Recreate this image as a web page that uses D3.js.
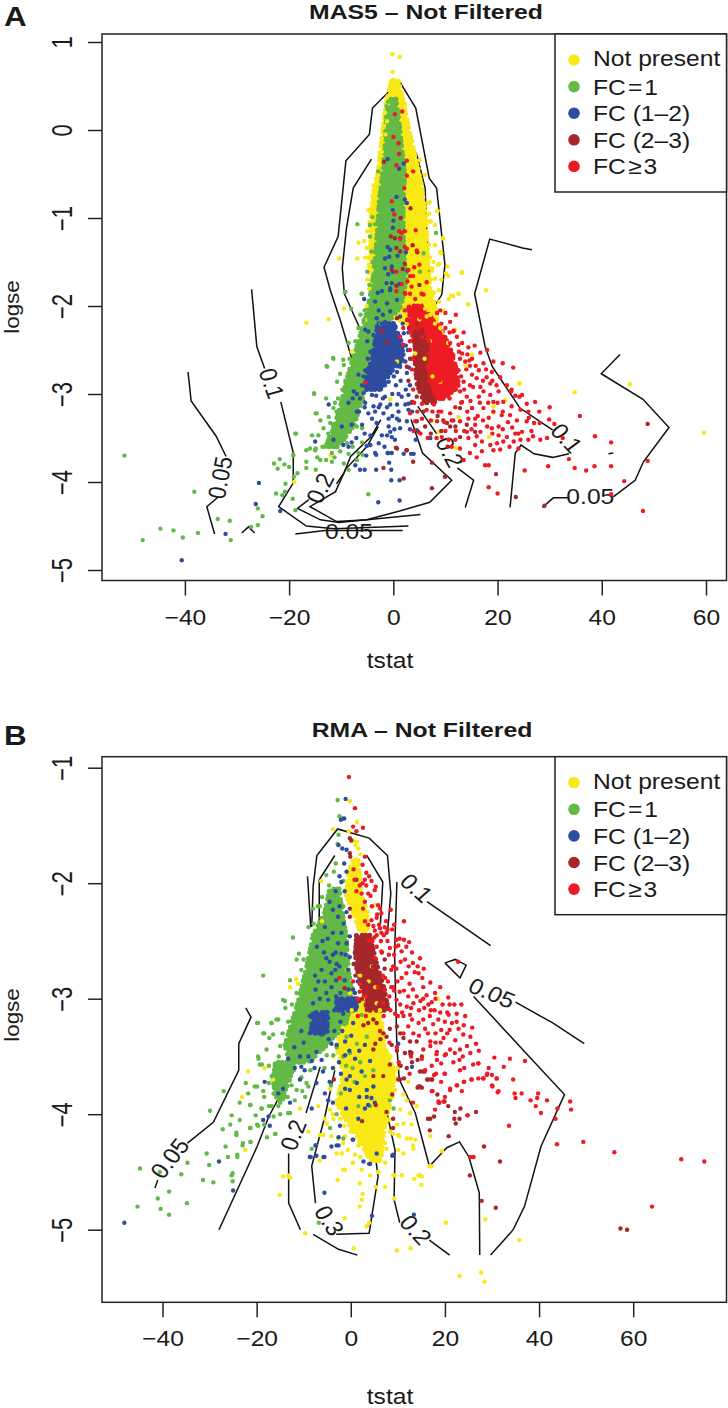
<!DOCTYPE html>
<html>
<head>
<meta charset="utf-8">
<script src="https://cdnjs.cloudflare.com/ajax/libs/d3/7.8.5/d3.min.js"></script>
<style>
body { margin: 0; background: #fff; }
svg { display: block; }
text { font-family: "Liberation Sans", Arial, sans-serif; fill: #1a1a1a; }
</style>
</head>
<body>
<div id="chart"></div>
<script>
// legend and tick labels
const legendLabels = ["Not present", "FC\u200A=\u200A1", "FC (1–2)", "FC (2–3)", "FC\u200A≥\u200A3"];
const classColors = ["#f8e816", "#63b946", "#2f4da0", "#a6262a", "#ed1c24"];
const masXTicks = [-40, -20, 0, 20, 40, 60];
const masYTicks = [1, 0, -1, -2, -3, -4, -5];
const rmaXTicks = [-40, -20, 0, 20, 40, 60];
const rmaYTicks = [-1, -2, -3, -4, -5];

// overplotted cores, solid in the picture: [logse, left tstat, right tstat]
const masYellowCore = [[.55,-.4,1],[.3,-1.4,2],[0,-2,3],[-.3,-2.6,4.2],[-.6,-3.2,5.3],[-.9,-4.2,6],[-1.2,-4.3,6.4],[-1.5,-4.3,6.6],[-1.8,-4.2,7],[-2.05,-3,8.2],[-2.25,4.5,8.4]];
const masGreenCore = [[.35,-.9,.5],[.1,-1.4,1.1],[-.2,-1.6,1.6],[-.5,-2.1,2.2],[-.8,-2.7,1.9],[-1.1,-3,1.9],[-1.4,-3.4,2],[-1.7,-3.9,2.5],[-2,-4.8,1.5],[-2.2,-5.7,-1.2],[-2.5,-7.2,-3.2],[-2.8,-8.8,-4.8],[-3.1,-10,-6.2],[-3.35,-11.2,-7.5],[-3.6,-13,-10.5]];
const masBlueCore = [[-2.2,-3,0],[-2.4,-3.5,1.5],[-2.6,-4,2],[-2.75,-5,-.5],[-2.95,-5.5,-2.5]];
const masRedCore = [[-2,3,5.5],[-2.3,3.5,9.5],[-2.5,4.5,11],[-2.7,5,12],[-2.9,6,12.5],[-3.05,7,10]];
const masBrownCore = [[-2.3,4,5.5],[-2.5,4.2,6.5],[-2.7,4.2,6],[-2.9,4.6,6.5],[-3.1,6,8]];
const rmaYellowTopCore = [[-1.8,.5,1.5],[-1.9,-.4,1.8],[-2.1,-1,2.2],[-2.25,.5,3.5],[-2.42,2,3.3]];
const rmaYellowCore = [[-3,1,5.5],[-3.2,-1,6.5],[-3.4,-3,7],[-3.65,-1.5,9.5],[-3.9,-3,8.3],[-4.05,-1,7.5],[-4.2,1.5,6.8],[-4.4,4.2,6.4]];
const rmaGreenCore = [[-2.05,-4.5,-2.5],[-2.25,-5.5,-1.8],[-2.45,-8,-1],[-2.75,-9.5,-.5],[-3,-11,.5],[-3.2,-12.5,-1],[-3.4,-14,-5],[-3.55,-13,-9]];
const rmaGreenLowCore = [[-3.55,-16,-12],[-3.7,-16.5,-13],[-3.85,-16,-14.5]];
const rmaBlueLeftCore = [[-3.12,-8,-5],[-3.3,-8.5,-5]];
const rmaBlueMidCore = [[-3,-3,1],[-3.1,-3,1]];
const rmaBrownCore = [[-2.45,1.2,4],[-2.7,1,5.5],[-2.9,2.5,7],[-3.1,3.5,8]];

// points, flat tstat,logse pairs
const masYellow = [-.2,.86,1.2,.83,-.1,.66,0,.57,-.3,.56,.4,.56,.5,.5,-.5,.45,1,.4,-1,.3,1.5,.28,2.2,.3,1.9,.1,-1.8,.05,2.4,-.05,-2.2,-.1,3.2,-.13,-2.2,-.25,-3.8,-.63,-3.8,-.69,-4.8,-.91,-4,-.85,-6.7,-1.28,-5.6,-1.26,-4.5,-1.33,-6.9,-1.46,-5.4,-1.45,-10.4,-1.46,6.1,-.51,6.7,-.83,8.4,-.92,8,-1.08,9.5,-1.23,8,-1.31,9,-1.39,10.4,-1.55,10.1,-1.63,13.1,-1.62,12.5,-1.86,7.7,-1.5,8.6,-1.53,7.4,-1.57,8,-1.69,6.5,-1.46,6.9,-.95,6.4,-.97,7.2,-1.04,5.1,-.34,4.8,-.44,-4.7,-1.53,-5.1,-1.34,-4.6,-.91,8.5,-.92,7,-.82,7,-1.04,9.6,-1.23,-4.6,-1.55,-4.2,-1.6,9.2,-1.4,8.8,-1.52,7.4,-1.6,9.2,-1.7,-16.7,-2.19,-12.4,-2.15,-9.5,-2.03,17.8,-1.82,13.2,-1.62,12.5,-1.86,14.4,-1.98,10.5,-1.66,11.1,-1.88,8.7,-1.82,10.6,-1.92,11.5,-1.89,14.4,-1.98,24.2,-2.88,11.9,-2.27,9.6,-2.05,7.7,-2.05,7.1,-2.1,6.4,-2.12,6.1,-2.03,8.4,-2.14,13.8,-2.67,19.2,-3.14,21.5,-3.07,9,-2.86,-.6,-3.06,7.4,-3.3,8.7,-3.43,18.3,-3.49,12,-3.61,19.2,-3.21,12.5,-3.26,4.2,-2.54,.7,-2.63,15.1,-2.55,-8,-2.52,-5.1,-2,-5.4,-2.16,59.6,-3.44,45.4,-2.89,34.8,-2.98,24.2,-2.88,6.2,-1.98,9.3,-2.3,10.5,-2.42,-12,-3.7,-19,-4,-1.2,.1,-1.6,.2,1.7,.12,2.3,.12,-1.5,-.05,2.9,-.2,3.4,-.3,-2.6,-.4,4.2,-.55,-3.3,-.55,5,-.7,5.4,-.75,-4,-.75,-4.6,-1.05,-5,-1.15,-4.8,-1.45,-5,-1.7,5.8,-1,6.2,-1.2,6.8,-1.3,7,-1.45,7.2,-1.7,7.8,-1.85,-4.6,-1.8,8.8,-1.95,8,-2.2,9,-2.25,4.2,-1.9,6.5,-1.75,5,-2.15,7,-2.4,6,-2.6,7.5,-2.8];
const masGreen = [-51.6,-3.7,-48.1,-4.66,-44.7,-4.53,-42.2,-4.55,-40.4,-4.63,-38.2,-4.11,-37.5,-4.58,-33.7,-4.42,-31.4,-4.44,-31.2,-4.66,-25.1,-4.39,-26,-4.49,-27.3,-4.51,-26,-4.3,-22.5,-4.13,-21.3,-4.15,-20.8,-4.11,-19.3,-4.19,-18.8,-4.32,-22.9,-3.79,-21.8,-3.74,-22.2,-3.85,-20,-3.83,-19.2,-3.7,-20.9,-3.8,-19.1,-3.94,-20.7,-4.02,-18.4,-3.9,-16.7,-3.84,-14.9,-3.86,-16.7,-3.77,-14,-3.75,-11.8,-3.77,-9.5,-3.79,-8.6,-3.86,-16.7,-3.64,-14.9,-3.62,-18.7,-3.45,-14.9,-3.22,-12.7,-2.69,-11.6,-2.59,-9.5,-2.67,-15.2,-2.99,-4.8,-4.14,-6.9,-1.07,-4.5,-1.08,-3.5,-1.07,-4.5,-1.21,-4.2,-1.38,-4,-1.5,-5,-1.61,8.2,-1.17,-9.3,-1.84,-6.1,-1.86,-4.6,-1.76,-2.9,-.47,-4,-.99,-1,.32,-1.3,.27,5.8,-1.4,5.1,-1.61,-9.2,-1.84,-6,-1.86,-8.1,-2.03,-5.7,-2.16,-6.7,-2.25,-8.6,-2.42,-9.6,-2.61,-11.5,-2.6,-12.8,-2.68,-10.2,-2.77,-10.8,-2.86,-15.2,-3,-12.9,-3.05,-11.2,-3.1,-11.5,-3.16,-14.7,-3.22,-14,-3.3,-12.4,-3.26,-12.1,-3.33,-13.4,-3.39,-18.8,-3.45,-14.4,-3.47,-15.6,-3.47,-16,-3.62,-15,-3.64,-13.1,-3.6,-11.8,-3.67,-19.2,-3.69,-7,-3.37,-6,-3.39,-8.9,-3.56,-6.7,-3.67,-5.9,-3.69,-10.8,-3.6,-9.2,-3.45,-10.2,-3.5,-12.5,-3.45,-8.3,-2.9,-7.6,-3.2,-9,-3.22,-6.3,-3.05,-5.5,-2.55,-3.2,-2.02,-2.4,-2.2,-4.7,-2.35,-4.7,-1.95,-5.5,-2.05,-6.3,-2.1,-6.6,-2.4,-7.3,-2.4,-7.7,-2.62,-8.4,-2.6,-9.2,-2.85,-9.8,-2.95,-10.6,-3.05,-10.9,-3.2,-11.6,-3.35,-12.4,-3.5,-11,-3.42,-13.6,-3.6,-14.6,-3.72,-12.9,-3.75,-10.2,-3.65,-11.3,-3.72,-8.6,-3.68,-7.8,-3.6,-6,-3.55,-7,-3.75];
const masBlue = [-25.8,-4.01,-26.4,-4.25,-21.7,-4.33,-32.2,-4.59,-40.6,-4.89,-2.9,-4.23,1.2,-4.21,-.4,-3.98,1.2,-3.98,-.4,-3.86,-3.3,-3.86,-5.5,-3.86,-6.4,-3.86,-7.3,-3.81,-1.1,-3.67,-3.3,-3.69,-5.1,-3.59,3.4,-3.68,.3,-3.52,-1.1,-1.33,-1.1,-.33,1.1,-.44,2,-.38,.6,-.76,2.2,-.79,2.6,-.83,-.1,-.91,0,-1.03,-.1,-1.11,-.6,-1.36,-1.6,-1.46,-.8,-1.44,.8,-1.43,2.4,-1.39,-1.6,-1.57,-.3,-1.55,-1,-1.64,-.1,-1.61,2.7,-1.6,-1.3,-1.74,-.3,-1.74,-.6,-1.82,-2.2,-1.83,-5.6,-1.92,-3.5,-1.95,-1.2,-1.97,.7,-1.93,-2.8,-2.05,-.6,-2.06,1.3,-2.12,-3.2,-2.14,-1.6,-2.18,.4,-2.23,-4.8,-2.29,-2.5,-2.29,-3.8,-2.33,2,-2.31,.7,-2.33,-5.4,-2.27,-3.5,-2.44,-1.6,-2.46,-2.5,-2.54,-4.4,-2.52,-.6,-2.56,1.3,-2.69,2.3,-2.63,-3.8,-2.63,-1.9,-2.67,-5.4,-2.73,-3.2,-2.75,-.6,-2.73,.7,-2.75,-6.7,-2.78,-4.4,-2.82,-2.2,-2.86,-6,-2.9,-4.8,-2.93,-2.8,-2.95,-.9,-2.86,2.6,-2.76,-7.6,-2.97,-5.7,-2.99,-4.1,-3.01,-1.6,-3.03,1.6,-3.03,2.9,-3.01,2.3,-3.12,2.9,-3.11,-3.8,-3.14,-2.5,-3.12,-.6,-3.12,.7,-3.12,-8.6,-3.1,-3.5,-3.2,1,-3.2,2.9,-3.18,-12.4,-3.12,-4.1,-3.28,-1.9,-3.22,-.9,-3.28,.7,-3.28,2.6,-3.31,-6,-3.35,-3.2,-3.33,-9.9,-3.37,-8,-3.35,-.9,-3.37,-.6,-3.43,-1.2,-3.47,1.3,-3.39,4.5,-3.41,7.1,-3.5,-4.4,-3.47,-2.2,-3.47,-.3,-3.49,-11.5,-3.52,-15,-3.54,-9.6,-3.58,-4.4,-3.58,-2.8,-3.56,-8.6,-3.6,-3.5,-3.67,-1,-3.67,-.3,-3.67,2,-3.68,3.9,-3.68,-7,-3.2,-5.5,-3.15,-7.8,-3.05,-3,-1.85,-.6,-1.8,1.2,-1.75,-2,-2.1,0,-2.2,-2.2,-2.2,-5,-2.4,-2,-2.4,.2,-2.45,-4.9,-2.6,-2.9,-2.85,-1.2,-2.7,-3.8,-2.85,-5,-2.75,-1.6,-2.9,.5,-2.9,-.2,-3,-3.3,-3.02,-5.4,-3.1,-7,-3,-6.6,-3.2,-1.2,-3.15,-2,-3.05,.2,-3.4,-1.7,-3.6,-5.5,-3.45,-7.1,-3.5,-8,-3.55,1.1,-3.3,3.5,-3.1,3.2,-3.4,-.8,-3.78,-5.2,-3.7,4.3,-3.52,1.5,-2.45,2.8,-2.5,3,-2.7,2.4,-2.95,1,-3,1.8,-2.2,2.9,-2.3,3.2,-2.9,3.6,-3.2,-.2,-3.25,-2.8,-3.15,-4.8,-3.22,-6.4,-3.05,-5.7,-2.8,-4.2,-2.72,-2.6,-2.95,.1,-2.8,.3,-2.65,1.4,-2.85,2.4,-2.45];
const masBrown = [-1.9,-3.84,2,-3.96,7.4,-4.07,9.9,-3.94,19.7,-3.91,23.5,-4.17,29,-4.27,48.8,-3.34,.5,-3.61,2.5,-3.64,3.8,-3.77,7.4,-3.78,-1.8,-.36,3.3,-.89,1.4,-1,-.5,-1.21,.3,-1.23,1.3,-1.23,3.7,-1.31,.6,-1.34,1.3,-1.38,4.6,-1.39,2.2,-1.52,1.8,-1.58,-.3,-1.59,5,-1.76,.6,-1.77,.7,-2.14,4.5,-2.2,5.5,-2.27,4.2,-2.48,5.5,-2.54,6.8,-2.42,4.5,-2.67,3.6,-2.6,5.8,-2.76,4.8,-2.88,5.5,-2.95,7.1,-3.01,6.4,-3.05,8,-3.09,4.5,-3.03,2.6,-2.69,3.6,-3.09,9.6,-3.3,11.5,-3.3,12.8,-3.16,15.1,-3.16,10.9,-3.37,10.3,-3.33,14.1,-3.35,15.7,-3.43,6.1,-3.37,4.5,-3.31,.7,-3.62,2.6,-3.64,4.8,-3.43,12.8,-3.49,11.9,-3.37,-2.2,-2.29,-1.2,-2.41,3,-2.25,2.9,-2.85,3.2,-2.6,8.5,-3.25,9.2,-3.42,5.8,-3.2,7.2,-3.45,10.4,-3.6];
const masRed = [.3,.18,1.7,.21,0,-.08,1,-.15,1.1,-.27,2.6,-.35,.6,-.4,3.8,-.47,2.6,-.52,2.1,-.66,-.3,-.81,.2,-.96,4.3,-1.14,1.1,-1.15,2.2,-1.15,1.6,-1.17,1.3,-1.24,2.2,-1.33,2.6,-1.35,4.5,-1.37,5,-1.53,4,-1.56,2.9,-1.59,.6,-1.61,3.2,-1.66,3.8,-1.66,2.7,-1.72,6.4,-1.73,1.6,-1.75,3.5,-1.78,.6,-1.83,2.2,-1.85,5.4,-1.86,3.2,-1.86,2.3,-1.86,4.2,-1.92,5.8,-1.87,2.9,-2.03,4.8,-2.05,8.4,-2.08,10,-2.08,2.6,-2.16,6.8,-2.18,10.9,-2.18,10,-2.25,1.3,-2.35,11.5,-2.29,12.2,-2.35,3.2,-2.29,1.9,-2.44,5.5,-2.35,9,-2.31,10.9,-2.42,12.5,-2.44,14.4,-2.47,13.2,-2.54,16.7,-2.53,15.1,-2.6,13.8,-2.63,11.5,-2.56,10,-2.54,9.3,-2.67,11.9,-2.67,12.5,-2.73,16.4,-2.73,15.1,-2.78,18.9,-2.75,20.5,-2.81,19.2,-2.63,17.9,-2.81,16,-2.82,8.4,-2.76,10.3,-2.8,11.5,-2.88,13.5,-2.86,14.7,-2.9,16.7,-2.92,18.6,-2.88,21.8,-2.9,22.7,-2.95,24.7,-3.01,20.2,-2.97,18.6,-3.01,16.4,-3.03,14.1,-3.03,12.8,-2.97,10.3,-2.97,21.1,-3.09,19.2,-3.09,22.7,-3.14,22.4,-3.24,24.4,-3.18,25.9,-3.2,20.8,-3.24,19.2,-3.2,17.3,-3.16,15.1,-3.16,13.2,-3.09,5.5,-3.11,6.4,-3.18,8.7,-3.2,10.9,-3.22,5.5,-3.28,3.2,-3.22,4.2,-3.31,8.4,-3.31,12.8,-3.31,14.4,-3.28,15.7,-3.28,18,-3.37,18.9,-3.39,16.7,-3.43,15.7,-3.35,14.1,-3.43,23.4,-3.45,21.8,-3.49,24.7,-3.43,25.6,-3.31,25.9,-3.52,24.4,-3.52,23.1,-3.54,21.1,-3.54,19.9,-3.56,18.6,-3.58,17,-3.54,15.7,-3.58,14.4,-3.5,19.2,-3.64,14.7,-3.67,10.6,-3.52,9.3,-3.49,11.9,-3.52,25.2,-3.87,18.3,-4.06,20,-4.13,17.6,-3.81,18.3,-3.81,29.7,-3.82,33.7,-3.74,34.8,-3.84,37,-3.87,38.6,-3.82,41.8,-3.82,41.8,-3.55,38.7,-3.48,35.8,-3.25,48.8,-3.76,44.3,-3.99,41.8,-4.14,47.9,-4.33,29.9,-3.29,27,-3.33,28.1,-3.33,26,-3.27,27.2,-3.09,25.6,-3.11,22.6,-2.97,24.2,-3.03,30.9,-3.34,32.5,-3.5,-5.4,-2.87,26.8,-3.48,28.2,-3.52,29.5,-3.5,24,-3.62,9.1,-2.42,7.2,-2.7,8.9,-2.85,3.8,-2.6,7.8,-3.12,9.2,-2.2,8,-2.3,6.8,-2.4,9.8,-2.45,8.6,-2.52,7.4,-2.58,11,-2.5,10.2,-2.62,6.5,-2.68,8.2,-2.65,9.4,-2.78,12.8,-2.6,14,-2.72,11,-2.75,13,-2.8,12,-2.95,15.3,-2.92,17.3,-2.97,19.8,-2.9,10.8,-3.05,9.2,-3.05,7.5,-3.2,11.9,-3.15,14.2,-3.2,16.2,-3.25,18.3,-3.27,20.2,-3.37,22,-3.32,23.7,-3.3,26.5,-3.42,16.6,-3.1,13.6,-3.42,12,-3.42,10,-3.42,8.3,-3.5,11.2,-3.6,12.8,-3.62,17,-3.65,20.5,-3.63,22.3,-3.6,16,-3.72,13.5,-3.75,24,-3.45,28,-3.2,30,-3.15,3.5,-2.05,5.2,-2.13,4,-2.25,1.9,-2.25,2.2,-2.05,12,-2.1,9,-2.05,13.5,-2.3,15.6,-2.45,18,-2.5,14.2,-2.55,17.3,-2.65,19,-2.85,21,-2.65,23,-2.7,3.2,-2.5,3.5,-2.72,3.8,-2.95,2.8,-2.15,3.2,-2.4,4,-3.1,4.6,-3.2,3.9,-3.42,5.2,-3.45,6.6,-3.5,7.2,-3.3,11.6,-2.28,10.8,-2.3,13.2,-2.42,12.6,-2.52,14.6,-2.62,15.8,-2.68,13.6,-2.95,14.8,-3.08,17.8,-2.72,17.2,-2.85,18.2,-3.1,20,-3.1,21,-3.2,23.4,-3.02,15,-3.4,17.2,-3.3,19,-3.45,21,-3.4,13,-3.1,11.2,-3.3,9.2,-3.2,9.8,-3.32,16,-3.48,20.2,-3.47,22.8,-3.38,12.3,-2.85,10.8,-2.9,14.7,-2.68];
const rmaYellow = [-.2,-1.29,1.3,-1.47,-3.8,-1.53,-.4,-1.55,2,-1.75,-6.3,-1.98,5.1,-2.19,-6.1,-2.33,-11.6,-2.83,-12.9,-2.9,-11.2,-2.87,.5,-1.63,1,-1.67,1.3,-1.64,1.6,-1.7,3.7,-2.39,3,-2.41,3.3,-2.38,18.6,-3,-.8,-2.75,-21.8,-3.63,-23.1,-3.85,-22.4,-4.31,-18.3,-3.6,-16.5,-3.7,-10.8,-3.95,-9,-4.15,-6.9,-3.93,-4.4,-3.96,-5.5,-4.04,-5.1,-4.08,-6.6,-4.18,-5.8,-4.18,-3.7,-4.04,-2.3,-4.04,-4.1,-4.19,-2.7,-4.21,-1.2,-4.19,-3,-4.34,-1.9,-4.34,-6.6,-4.4,.9,-4.35,2,-4.37,-1.2,-4.48,.5,-4.42,2.3,-4.48,4.1,-4.53,5.9,-4.5,9,-4.53,10.8,-4.53,7.3,-4.42,7.6,-4.3,10.1,-4.31,11.2,-4.34,13.3,-4.3,13.7,-4.22,11.9,-4.21,12.9,-4.09,11.2,-4.08,12.6,-3.99,14,-3.93,11.9,-3.88,11.2,-3.83,9.4,-3.79,12.2,-3.72,10.5,-3.96,9,-4.17,10.1,-4.18,17.2,-4.45,19.3,-4.32,14.4,-4.53,15.1,-4.54,16.9,-4.19,-14.4,-4.54,-13.3,-4.53,-12.9,-4.55,-1.6,-4.25,2.3,-4.18,3.7,-4.19,1.6,-4.27,-15.1,-4.7,-9.7,-5.03,-1.3,-4.9,.6,-5.16,1.9,-4.8,3.4,-4.97,3.9,-4.94,2.5,-4.69,2.4,-4.74,5.3,-4.63,7.3,-4.63,9.2,-4.73,9.8,-5.18,12.7,-5.16,20.2,-4.94,28.6,-4.91,35.8,-5.09,23.1,-5.4,27.7,-5.37,28.4,-5.45,16.7,-4.45,19.4,-4.32,15,-4.61,14.7,-4.53,13.5,-4.56,10.8,-4.53,9.3,-4.53,5.8,-4.5,.4,-4.42,1.9,-4.6,-1.6,-4.48,-2.8,-4.57,4.8,-4.34,6.3,-4.28,3.9,-4.28,1.9,-4.25,-.6,-4.31,12.7,-4.21,13.2,-4.27,10.3,-4.19,9.8,-4.09,4.5,-2.72,5.2,-2.9,3.8,-2.85,2.6,-3,5.5,-3.04,-3.8,-3.5,-2.5,-3.3,-1.7,-3.25,-3.6,-3.6,-4.4,-3.78,-3.8,-4,-1.8,-3.75,-2.8,-3.45,7.8,-3.6,8.4,-3.5,9.9,-3.6,8.9,-3.85,8.2,-4.05,8.3,-4.15,7.3,-4.25,-1.4,-4.1,0,-4.15,.2,-3.1,-.2,-2.95,2,-2.8,6.2,-3.1,7,-3.3,5.6,-4.4,4.3,-4.4];
const rmaGreen = [-44.8,-4.47,-45.3,-4.8,-40.4,-4.82,-38.6,-4.87,-41,-4.73,-38.6,-4.67,-34.8,-4.77,-31.4,-4.57,-29.2,-4.59,-36,-4.52,-40.6,-4.5,-34.7,-4.42,-30.1,-4.44,-30.6,-4.34,-26.1,-4.37,-24.1,-4.35,-25.1,-4.51,-25.1,-4.58,-26.6,-4.28,-23,-4.27,-21.3,-4.24,-24.3,-4.18,-27.2,-4.13,-25.6,-4.09,-29.9,-3.97,-25.3,-4.01,-27,-3.8,-23.6,-3.9,-21.3,-3.92,-21.8,-3.82,-6.8,-4.94,-19.6,-3.52,-18.9,-3.57,-18.4,-3.85,-21.3,-4.12,-19.9,-4.09,-18.4,-4.09,-16.4,-4.02,-16,-4.17,-12.9,-3.99,-15.4,-3.93,-13.4,-3.85,-17.4,-3.73,-16.4,-3.82,-19.9,-3.76,-22.3,-3.73,-14.9,-3.69,-11.5,-3.79,-14.4,-3.87,-17.4,-3.93,-18.9,-3.95,-10.5,-3.68,-9,-3.76,-15.4,-3.56,-18.6,-2.8,-12.3,-2.47,-12.9,-2.84,-11.5,-2.66,-11,-2.61,-19.9,-3.21,-18.4,-3.3,-14.4,-3.01,-13.9,-3.08,-15.4,-3.18,-16.9,-3.21,-10.5,-2.75,-10,-2.66,-8,-2.22,-9,-2.38,-2.8,-1.28,-2.4,-1.42,-1.8,-1.44,-2.6,-1.58,-2.8,-1.66,-16.5,-3.31,-18.6,-3.3,-17.3,-3.34,-19.7,-3.21,-16.8,-3.21,-15.8,-3.18,-14,-3.02,-15,-3.41,-17.9,-3.44,-19.7,-3.5,-19.3,-3.57,-16.1,-3.56,-14.7,-3.63,-16.8,-3.67,-20.4,-3.76,-18.6,-3.8,-15.4,-3.73,-16.1,-3.78,-14,-3.85,-12.6,-3.75,-9.4,-3.73,-9.7,-3.85,-11.9,-3.88,-15,-3.9,-21.4,-3.92,-19,-3.95,-15,-4,-13.3,-3.99,-20.2,-4.01,-21.4,-4.12,-19.7,-4.1,-23.6,-4.05,-24.3,-4.16,-22.9,-4.25,-21.3,-4.24,-17.8,-4.2,-16.1,-4.17,-24.1,-4.37,-25.3,-4.53,-8.3,-4.3,-1.6,-4.21,-4.4,-4.12,-3,-4,9.1,-3.95,8.3,-3.88,4.1,-3.93,3,-3.67,4.8,-3.62,1.6,-3.93,-1.6,-3.5,-.2,-3.47,-3.7,-3.49,-5.1,-3.39,-5.1,-3.49,-2.7,-3.3,-.9,-3.33,3.4,-3.33,1.3,-3.39,-.9,-3.21,2.3,-3.14,-3.2,-1.83,-3.6,-1.9,-5.2,-1.93,-4.6,-2.02,-6.1,-2.12,-6.6,-2.2,-1.6,-1.98,-1.6,-2.2,-1.2,-2.55,-1,-2.9,-7.9,-2.35,-7,-2.2,-8.6,-2.6,-10.2,-2.85,-11.5,-2.95,-12.5,-3.05,-13.3,-3.2,-14.5,-3.3,-15.3,-3.5,-13.4,-3.65,-17.4,-3.58,-15.2,-3.88,-16.8,-3.93,-12.1,-3.62,-11,-3.55,-10.3,-3.8,-8.6,-3.62,-2,-3.2,-4,-3.25,-3,-3.42,-1,-3.58,.4,-3.6,2,-3.55,-2.1,-3.82,.8,-3.72,-5.6,-3.6,-4.2,-3.75];
const rmaBlue = [-1.1,-1.27,-2.1,-1.45,-1.4,-1.44,-2.6,-1.67,-1.8,-1.7,-.9,-1.71,-1.4,-1.83,-.9,-1.9,-2.4,-1.94,-2,-1.99,-3.2,-2.07,-1.3,-2.07,-4.5,-2.16,-2.4,-2.2,-3.8,-2.23,-2.7,-2.29,-5.5,-2.38,-3.8,-2.43,-2,-2.43,-.2,-2.46,-2.7,-2.52,-2,-2.61,-3.8,-2.62,-.2,-2.64,-4.5,-2.68,-2.4,-2.72,-.6,-2.75,-6.2,-2.75,-4.1,-2.78,-5.5,-2.85,-6.9,-2.85,-3.1,-2.84,-1.3,-2.84,-4.1,-2.9,.5,-2.92,-6.6,-3,-4.8,-3.01,-3.1,-2.98,-1.3,-3.01,1.2,-3.04,-8,-3.04,-3,-3.04,-.9,-3.03,1.3,-3.07,-8.7,-3.15,-6.6,-3.17,-4.8,-3.17,-1.6,-3.13,.5,-3.21,-8,-3.24,-5.5,-3.21,-8.7,-3.3,-10.5,-3.28,-6.2,-3.31,-4.1,-3.39,-3,-3.4,-1.2,-3.37,-7.3,-3.46,-13.3,-3.52,-10.8,-3.5,-9,-3.5,-11.9,-3.6,-10.5,-3.59,-8.3,-3.54,-6.2,-3.53,-5.9,-3.63,-10.8,-3.7,-18.3,-3.72,-7.3,-3.73,-1.2,-3.49,.9,-3.52,4.1,-3.54,2.3,-3.63,-.2,-3.67,-.9,-3.7,1.3,-3.73,-1.2,-3.78,3.4,-3.79,3.4,-3.85,4.8,-3.76,4.4,-3.86,5.1,-3.9,3,-3.95,1.6,-4.04,-5.5,-3.82,-4.8,-3.88,-8.3,-3.95,-12.9,-3.9,-18.6,-4.05,-17.5,-4.02,-17.2,-4.1,-14.4,-3.78,-15.4,-3.82,-2.3,-4.1,-3,-4.27,-4.1,-4.28,.5,-4.22,-7.4,-4.27,-8.7,-4.37,-7.3,-4.36,-5.6,-4.37,5.5,-4.34,9,-4.35,2.7,-4.41,4.1,-4.43,10.1,-3.39,13,-3.59,3.7,-3.92,-.2,-3.79,-48.1,-4.94,-28,-4.41,-25,-4.66,-5.6,-4.68,4.5,-4.88,13.4,-4.87,-7.5,-4.27,-8.5,-4.37,-5.8,-4.37,3.9,-4.43,8.8,-4.36,.4,-4.22,-2.6,-4.2,-2.6,-4.27,-1.5,-2.35,-.9,-2.25,-4.9,-2.48,-5.7,-2.6,-3,-2.7,-.9,-2.52,.9,-2.6,1.5,-2.85,-7.2,-2.55,-6,-2.5,-5.2,-2.65,-3.2,-2.6,-1.1,-2.62,-7.6,-2.8,-3.3,-2.75,-.5,-2.92,-2.2,-2.95,-5.2,-2.95,-7.5,-2.92,-3.5,-3.1,-2.2,-3.2,-3.5,-3.28,-1.8,-3.28,.1,-3.32,-.3,-3.45,-2.5,-3.55,-4.7,-3.35,-3.8,-3.6,-2.1,-3.65,1.8,-3.45,3,-3.4,-10,-3.38,-12,-3.42,-9.8,-3.62,-7.7,-3.6,-4.5,-3.72,1.8,-3.85,-1,-3.95,-3.8,-3.9,.8,-2.7,.9,-2.95];
const rmaBrown = [57.3,-4.99,58.7,-5,30.8,-4.81,27.8,-4.75,25.3,-4.53,31.7,-4.41,28.3,-4.28,20.8,-4.19,16.8,-4.14,22.3,-4.08,23.1,-4.04,22,-4.04,24.8,-4.01,26.6,-3.98,23.3,-3.95,22.1,-3.98,16.4,-4.04,17.7,-4.02,18.8,-3.9,19.9,-3.89,18.4,-3.83,20.7,-3.93,12.7,-3.48,14.2,-3.53,14.7,-3.63,15.7,-3.63,16.2,-3.7,17.2,-3.7,14.7,-3.76,14.2,-3.77,11.3,-3.69,10.1,-3.7,8.8,-3.83,-3.6,-3.7,5.3,-3.92,2.4,-4.06,4.8,-3.67,6.9,-3.67,10.5,-3.7,11.9,-3.6,8.3,-3.57,15.3,-3.63,14.4,-3.76,15.1,-3.77,16.5,-3.7,17.3,-3.7,12.9,-3.47,12.6,-3.46,15.1,-3.5,16.9,-4.04,7.6,-3.98,9,-4.04,9,-4.12,4.8,-3.18,6.9,-3.3,7.6,-3.33,8.3,-3.26,9.8,-3.24,10.5,-3.3,11.2,-3.34,12.6,-3.37,14,-3.37,5.2,-3.39,2.7,-3.23,3.7,-3.21,5.5,-3.21,4.8,-3.44,-.2,-1.61,.1,-1.63,-.2,-1.74,-.1,-1.77,1.2,-1.97,-.2,-2.22,-.2,-2.29,1.2,-2.45,7.2,-2.66,7.2,-2.74,4.7,-2.72,5.5,-2.78,6.5,-2.9,5.5,-3,7.6,-3.04,-1.3,-2.91,2.3,-2.9,3.3,-2.87,.9,-2.6,.6,-2.7,6.6,-2.6,3.2,-3.05,1.8,-3.02,1,-2.55,1,-2.8,2.4,-3,3.8,-3.05,4.8,-3,6,-3.05,6.3,-3.35,8.7,-3.4,9.8,-3.45,11.5,-3.47,10.6,-3.58,13,-3.55];
const rmaRed = [-.4,-1.08,.9,-1.35,2.6,-1.52,.5,-1.51,1.2,-1.55,3,-1.77,2.5,-1.84,.6,-1.88,3.3,-1.91,3.9,-1.94,3,-1.97,2.5,-2,3.3,-2.02,5.3,-2.03,5.1,-2.06,.8,-1.97,1.9,-2.02,1.2,-2.07,2.3,-2.09,3.7,-2.09,4.2,-2.11,3,-2.16,2.6,-2.22,5.8,-2.19,5.6,-2.27,6.5,-2.26,8.5,-2.23,11.3,-2.33,9.2,-2.36,5.5,-2.3,3,-2.33,3.7,-2.36,4.4,-2.32,6.2,-2.39,7.2,-2.38,5.1,-2.41,6.5,-2.43,7.6,-2.43,9.7,-2.49,11.3,-2.49,12.4,-2.51,10.1,-2.54,11.8,-2.55,10.8,-2.59,14.7,-2.65,13.2,-2.69,15.5,-2.74,13.6,-2.77,11.5,-2.66,9.7,-2.74,8.6,-2.75,10.8,-2.82,12.5,-2.87,15.4,-2.9,16.1,-2.97,17.9,-2.95,20.7,-2.99,15.4,-3,17.2,-3.03,14,-2.98,12.2,-2.98,10.4,-2.94,9,-2.9,7.9,-2.85,7.2,-2.92,9.7,-3.01,6.9,-3.04,5.5,-2.55,8.3,-2.56,6.5,-2.59,1.9,-2.87,.5,-2.85,-2.4,-2.82,1.9,-2.94,3.3,-2.98,1.5,-3,10.5,-3.05,11.9,-3.07,13.3,-3.04,11.2,-3.15,9.4,-3.13,12.6,-3.14,14.4,-3.21,15.8,-3.26,13.3,-3.3,11.2,-3.3,20.8,-3.14,22.5,-3.13,24.3,-3.15,21.5,-3.21,22.9,-3.26,25.4,-3.33,23.9,-3.31,26.6,-3.39,22.2,-3.36,23.2,-3.44,24.7,-3.41,25.4,-3.47,21.1,-3.44,19.7,-3.34,18.3,-3.46,20,-3.49,16.9,-3.41,15.4,-3.44,18.3,-3.53,15.1,-3.52,16.9,-3.37,27.1,-3.56,23.2,-3.62,20,-3.65,18.1,-3.65,27.1,-3.69,28.2,-3.69,29.3,-3.6,28.9,-3.66,30,-3.66,31,-3.69,25.7,-3.7,24,-3.72,22.5,-3.75,21.1,-3.79,23.6,-3.8,30.1,-3.76,31.4,-3.8,17.2,-3.8,19.7,-3.89,18.6,-3.89,24.8,-4.01,25.4,-4.37,26.1,-4.37,40.4,-3.99,39.8,-3.82,41.7,-3.88,39.6,-3.86,38.2,-3.88,39.3,-3.93,36.3,-3.82,34.8,-3.82,35,-3.86,34.5,-3.7,33.6,-4.1,43.9,-3.95,43.5,-4.04,46.6,-3.89,46.8,-3.96,43.8,-4.26,49.4,-4.24,56,-4.33,70.2,-4.39,75.1,-4.41,64,-4.8,30,-3.75,31.2,-3.81,31,-3.69,33.8,-3.52,32.5,-3.59,37,-3.54,29,-3.65,28.1,-3.69,25.6,-3.7,24.1,-3.72,22.6,-3.75,21.1,-3.78,20,-3.85,18.7,-3.9,17.4,-3.8,17.9,-3.96,30.5,-3.51,27.1,-3.56,23.1,-3.53,20.2,-3.48,18.2,-3.48,13.2,-3.9,17.7,-3.66,24.1,-3.6,19.9,-3.65,22.1,-3.47,22.8,-2.68,6.8,-2.8,5.8,-2.9,8.1,-2.62,9.2,-2.62,10.6,-2.68,12.3,-2.72,14.4,-2.78,11.8,-2.78,9.9,-2.85,8.2,-2.98,11.3,-2.93,13.2,-2.92,16.9,-2.86,19,-2.9,17.8,-3.1,14.5,-3.1,13,-3.18,15.4,-3.18,12.2,-3.24,14.5,-3.32,16.4,-3.3,18,-3.3,20.5,-3.3,22,-3.05,23.5,-3.05,25.8,-3.25,24,-3.23,27.2,-3.45,26,-3.57,23.8,-3.5,21.8,-3.55,19.2,-3.56,17.2,-3.58,19.2,-3.72,7.8,-2.5,8.8,-2.4,6.4,-2.5,5,-2.47,7.5,-2.33,4.5,-2.2,6.2,-2.22,4.4,-1.98,5.2,-2.65,3.8,-2.5,10,-3.15,8.4,-3.1,7,-3.15,9,-2.72,7.3,-2.82,3.2,-3.15,1.5,-3.15,6.2,-3.28,8.2,-3.38,9.8,-3.42,12.8,-3.5,15.8,-3.62,12.5,-3.65,10.2,-3.55,16.5,-3.05,18,-3,19.5,-3.05,21,-3.05,16.8,-3.15,18.6,-3.18,20,-3.2,17.5,-3.22,19.2,-3.27,21,-3.27,17,-3.1,19,-3.12,20.5,-3.12,15.6,-3.08,22.5,-3.2,18,-3.38,19.1,-3.38,9.5,-2.55,10.4,-2.48,9.2,-2.93,10.9,-3.12,8.6,-2.9,13,-2.6,14.2,-2.72,15.2,-2.82,12.8,-3.08,14.8,-3.02,4.8,-2.37,6,-2.36,7,-2.45,5.5,-2.45,7.8,-2.4,4.6,-2.5];

// contour lines, flat tstat,logse pairs
const masContours = [
  [-.45,.46,-4,.25,-4.6,-.05,-9.1,-.35,-10.6,-1.21,-13.3,-1.56,-12.1,-1.82,-10.2,-2.16,-7.6,-2.67,-5.5,-3.1],
  [1.3,.54,4.3,.25,6.9,-.55,8.3,-.66,9.9,-1.53,9.3,-1.87,7.4,-2.05],
  [-4.2,-.33,-7.7,-.66,-9,-1.12,-9.8,-1.57,-9.4,-1.86,-7.6,-2.1,-6,-2.31,-4,-2.7],
  [2.6,-.11,4.5,-.28,6.1,-.66,6.4,-1.16,6.8,-1.6,6,-1.9,4,-2.2],
  [-2.9,-3.37,-5.1,-3.6,-9.1,-3.85,-11.1,-4.11,-16,-4.28,-10.9,-4.45,-5.1,-4.43,1.2,-4.33,7,-4.23,11.2,-3.98,5.6,-3.67,3.4,-3.29],
  [-27.2,-1.81,-26.2,-2.46,-24.7,-2.71],
  [-21.6,-3.09,-19.2,-3.67,-19.2,-4.01,-22,-4.28,-16.7,-4.5,-11.3,-4.53,2.9,-4.5],
  [-18.8,-4.59,-13.1,-4.55,1.8,-4.55],
  [-16.2,-4.2,-18.4,-4.3,-14,-4.43,-10.4,-4.46,5.2,-4.37],
  [-10.9,-4.02,-9.5,-3.9,-8.2,-3.71,-4.2,-3.48,-2.4,-3.29],
  [13.8,-4.29,15.4,-3.98,12.3,-3.84],
  [8.3,-3.45,4.7,-3.14],
  [26.6,-1.36,24.8,-1.34,18.5,-1.24,15.6,-1.86,17.6,-2.46,19,-2.69,24.3,-3.16,30.6,-3.41],
  [33.7,-3.68,30.6,-3.72,27,-3.68,24.5,-3.58,23.4,-3.67,22.4,-4.29],
  [41.3,-3.68,42.2,-3.67],
  [43.5,-2.55,39.9,-2.77,47.9,-3.06,52.9,-3.38,48,-3.77,46.4,-3.98,42.2,-4.17],
  [33.8,-4.18,30.7,-4.18,28.6,-4.29],
  [-39.4,-2.75,-38.8,-3.08,-34,-3.48,-32.1,-3.71],
  [-33.6,-4.17,-35.8,-4.28,-34.3,-4.59],
  [-29.1,-4.58,-27.8,-4.51,-26.6,-4.58]
];
const rmaContours = [
  [-8.3,-2.38,-8,-2.03,-7.2,-1.76,-2.8,-1.53,3.9,-1.61,7.8,-1.76,8.5,-2.09,7.8,-2.43],
  [-6.7,-2.4,-6.7,-1.97,-3.4,-1.76],
  [3.4,-1.76,6.8,-1.99,6.3,-2.35],
  [-9.2,-1.94,-8.5,-2.38],
  [9.8,-1.99,9.3,-2.61,9.8,-3.42,10.3,-3.7,13.7,-3.99,16.7,-4.45,20.4,-4.29,23.1,-4.24,25.1,-4.37,27.3,-4.68,27.4,-5.22],
  [16.2,-2.16,29.7,-2.54],
  [20,-2.69,22.2,-2.66,24.5,-2.71,23.2,-2.82,20,-2.69],
  [35,-3.03,42.9,-3.21,49.6,-3.39],
  [26.1,-2.98,36.5,-3.44,45.4,-3.83,40.4,-4.28,36.9,-4.8,34.5,-5,29.7,-5.22],
  [-22.3,-3.08,-21.2,-3.16,-23.8,-3.39,-23.8,-3.62,-29.2,-4.07,-34.7,-4.25],
  [-41,-4.57,-41.6,-4.64],
  [-28,-5,-19.9,-4.28,-17.4,-4.02,-14.4,-3.79,-11,-3.4],
  [-9.5,-3.99,-6.5,-3.59],
  [-13.2,-4.34,-13.2,-4.77,-10.7,-5],
  [-8,-5.04,-2.6,-5.17,1.4,-5.22],
  [-3.4,-3.62,-5.5,-4.02,-8.3,-4.45,-7.5,-4.77],
  [-3.1,-5.04,3.9,-5.03,5.8,-4.54,4.3,-4.08,2.5,-3.6],
  [6.3,-3.73,9.4,-4.31,9.2,-4.74,10.4,-4.94],
  [16.7,-5.09,21,-5.22]
];
// contour label text with its tstat, logse
const masLabelText = ["0.1", "0.05", "0.2", "0.05", "0.2", "0.1", "0.05"];
const masLabelX = [-23.3, -33.3, -14.1, -8.5, 10.9, 33.3, 37.8];
const masLabelY = [-2.88, -3.95, -4.07, -4.56, -3.66, -3.5, -4.16];
const rmaLabelText = ["0.1", "0.05", "0.05", "0.2", "0.3", "0.2"];
const rmaLabelX = [14, 30, -38.5, -12.3, -4.5, 13.8];
const rmaLabelY = [-2.04, -2.95, -4.38, -4.18, -4.92, -5];

// image is stretched sideways a bit, text has to follow
const stretch = 1.12;
const svg = d3.select("#chart").append("svg").attr("width", 728).attr("height", 1408);

function toPairs(flat) {
    const out = [];
    for (let i = 0; i < flat.length; i += 2) out.push([flat[i], flat[i + 1]]);
    return out;
}

function drawPanel(p) {
    const x = d3.scaleLinear().domain([-40, 60]).range(p.xRange);
    const y = d3.scaleLinear().domain(p.yDomain).range(p.yRange);
    const g = svg.append("g");

    // contours first, the points sit on top of them
    const line = d3.line().x(d => x(d[0])).y(d => y(d[1]));
    g.selectAll("path.contour")
        .data(p.contours)
        .enter()
        .append("path")
        .attr("class", "contour")
        .attr("d", d => line(toPairs(d)))
        .attr("fill", "none")
        .attr("stroke", "#111")
        .attr("stroke-width", 1.5);

    p.labelText.forEach((t, i) => {
        g.append("text")
            .attr("transform", "translate(" + x(p.labelX[i]) + "," + y(p.labelY[i]) + ") scale(" + stretch + ",1) rotate(" + p.labelAngles[i] + ")")
            .attr("text-anchor", "middle")
            .attr("dy", "0.36em")
            .attr("font-size", 22)
            .text(t);
    });

    // solid cores, with a beaded edge so they don't look cut out
    const area = d3.area().y(d => y(d[0])).x0(d => x(d[1])).x1(d => x(d[2]));
    p.cores.forEach(c => {
        g.append("path")
            .attr("d", area(c.rows))
            .attr("fill", classColors[c.cls])
            .attr("stroke", classColors[c.cls])
            .attr("stroke-width", 5)
            .attr("stroke-linecap", "round")
            .attr("stroke-dasharray", "0 4.4 0 6.2 0 3.6");
    });

    // points, class by class
    p.points.forEach((pts, cls) => {
        g.selectAll("circle.c" + cls)
            .data(toPairs(pts))
            .enter()
            .append("circle")
            .attr("class", "c" + cls)
            .attr("cx", d => x(d[0]))
            .attr("cy", d => y(d[1]))
            .attr("r", 2.2)
            .attr("fill", classColors[cls]);
    });

    // box
    g.append("rect")
        .attr("x", 102).attr("y", p.top)
        .attr("width", 624.5).attr("height", p.bottom - p.top)
        .attr("fill", "none").attr("stroke", "#222").attr("stroke-width", 1.5);

    // axes
    const xAxis = d3.axisBottom(x).tickValues(p.xTicks).tickSize(15).tickSizeOuter(0);
    const gx = g.append("g").attr("transform", "translate(0," + p.bottom + ")").call(xAxis);
    gx.select(".domain").remove();
    gx.selectAll("line").attr("stroke", "#222").attr("stroke-width", 1.5);
    gx.selectAll("text")
        .attr("y", null).attr("dy", null)
        .attr("transform", "translate(0,44) scale(" + stretch + ",1)")
        .attr("font-size", 22);

    const yAxis = d3.axisLeft(y).tickValues(p.yTicks).tickFormat(d3.format("d")).tickSize(14).tickSizeOuter(0);
    const gy = g.append("g").attr("transform", "translate(102,0)").call(yAxis);
    gy.select(".domain").remove();
    gy.selectAll("line").attr("stroke", "#222").attr("stroke-width", 1.5);
    gy.selectAll("text")
        .attr("x", null).attr("dy", null)
        .attr("text-anchor", "middle")
        .attr("transform", "translate(-30,0) scale(1.3,1) rotate(-90)")
        .attr("font-size", 22);

    // titles
    g.append("text")
        .attr("transform", "translate(" + p.titleX + "," + p.titleY + ") scale(1.18,1)")
        .attr("text-anchor", "middle").attr("font-weight", "bold").attr("font-size", 21)
        .text(p.title);
    g.append("text")
        .attr("transform", "translate(4," + p.letterY + ") scale(" + stretch + ",1)")
        .attr("font-weight", "bold").attr("font-size", 28)
        .text(p.letter);
    g.append("text")
        .attr("transform", "translate(390," + p.xLabelY + ") scale(" + stretch + ",1)")
        .attr("text-anchor", "middle").attr("font-size", 22)
        .text("tstat");
    g.append("text")
        .attr("transform", "translate(19," + p.yLabelY + ") rotate(-90) scale(1.12,1)")
        .attr("text-anchor", "middle").attr("font-size", 20)
        .text("logse");

    // legend
    g.append("rect")
        .attr("x", 555).attr("y", p.top)
        .attr("width", 171.5).attr("height", 158)
        .attr("fill", "#fff").attr("stroke", "#222").attr("stroke-width", 1.5);
    legendLabels.forEach((t, i) => {
        const top = p.top + 26 + i * 26.6;
        g.append("circle").attr("cx", 574).attr("cy", top).attr("r", 5.8).attr("fill", classColors[i]);
        g.append("text")
            .attr("transform", "translate(593," + (top + 6 + (i ? 2 : 0)) + ") scale(" + stretch + ",1)")
            .attr("font-size", 22)
            .text(t);
    });
}

drawPanel({
    title: "MAS5 – Not Filtered", letter: "A",
    titleX: 426, titleY: 19, letterY: 26, xLabelY: 668, yLabelY: 307,
    top: 34, bottom: 580.5,
    xRange: [184.9, 706], yDomain: [1, -5], yRange: [42, 570],
    xTicks: masXTicks, yTicks: masYTicks,
    contours: masContours,
    labelText: masLabelText, labelX: masLabelX, labelY: masLabelY,
    labelAngles: [72, -80, -65, 0, 65, 50, 0],
    cores: [
        { cls: 0, rows: masYellowCore }, { cls: 1, rows: masGreenCore }, { cls: 2, rows: masBlueCore },
        { cls: 4, rows: masRedCore }, { cls: 3, rows: masBrownCore }
    ],
    points: [masYellow, masGreen, masBlue, masBrown, masRed]
});

drawPanel({
    title: "RMA – Not Filtered", letter: "B",
    titleX: 422, titleY: 737, letterY: 745, xLabelY: 1404, yLabelY: 1015,
    top: 756.7, bottom: 1302.3,
    xRange: [162.5, 633.2], yDomain: [-1, -5], yRange: [767.7, 1229.7],
    xTicks: rmaXTicks, yTicks: rmaYTicks,
    contours: rmaContours,
    labelText: rmaLabelText, labelX: rmaLabelX, labelY: rmaLabelY,
    labelAngles: [45, 25, -55, -70, 60, 50],
    cores: [
        { cls: 0, rows: rmaYellowTopCore }, { cls: 0, rows: rmaYellowCore },
        { cls: 1, rows: rmaGreenCore }, { cls: 1, rows: rmaGreenLowCore },
        { cls: 2, rows: rmaBlueLeftCore }, { cls: 2, rows: rmaBlueMidCore },
        { cls: 3, rows: rmaBrownCore }
    ],
    points: [rmaYellow, rmaGreen, rmaBlue, rmaBrown, rmaRed]
});
</script>
</body>
</html>
